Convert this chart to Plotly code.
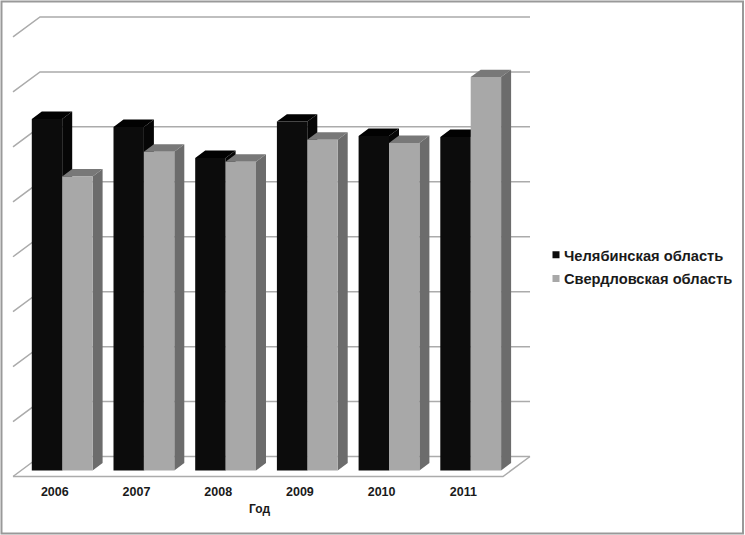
import plotly.graph_objects as go

# ---- data (values in gridline units; the source axis has no printed labels) ----
years = ["2006", "2007", "2008", "2009", "2010", "2011"]
chelyabinsk = [6.40, 6.25, 5.69, 6.35, 6.09, 6.07]
sverdlovsk = [5.35, 5.80, 5.62, 6.02, 5.96, 7.16]
grid_levels = [0, 1, 2, 3, 4, 5, 6, 7, 8]

W, H = 745, 535
PX_X, X0 = 81.7, 54.8      # px per category, px of first category on the front floor
PX_Y, Y0 = 55.0, 471.0     # px per unit, px of the bar baseline
L, R, B = 12, 532, 478.5   # plot area in px


def xpx(p):
    return (p - X0) / PX_X


def ypx(p):
    return (Y0 - p) / PX_Y


# bar geometry, in data units
BAR_W = 30.4 / PX_X
BAR_SHIFT = 7.4 / PX_X
BAR_DX, BAR_DY = 10 / PX_X, 7.5 / PX_Y
# wall / floor geometry
WALL_DX, WALL_DY = 27 / PX_X, 20 / PX_Y
BACK_Y0 = 14 / PX_Y
BACK_X0, BACK_X1 = xpx(40), xpx(530)


def polys(rects):
    xs, ys = [], []
    for r in rects:
        xs += [p[0] for p in r] + [None]
        ys += [p[1] for p in r] + [None]
    return xs, ys


fig = go.Figure()

GRID = "#ababab"


def line(xs, ys, width=1.5):
    fig.add_trace(go.Scatter(x=xs, y=ys, mode="lines", line=dict(color=GRID, width=width),
                             showlegend=False, hoverinfo="skip", cliponaxis=False))


# back-wall gridlines + slanted side-wall ticks
for k in grid_levels:
    y = BACK_Y0 + k
    line([BACK_X0 - WALL_DX, BACK_X0, BACK_X1], [y - WALL_DY, y, y])
# floor
fy = BACK_Y0 - WALL_DY
line([BACK_X0 - WALL_DX, BACK_X1 - WALL_DX, BACK_X1], [fy, fy, BACK_Y0])


def face(rects, color, name):
    xs, ys = polys(rects)
    fig.add_trace(go.Scatter(x=xs, y=ys, mode="lines", fill="toself", fillcolor=color,
                             line=dict(width=0, color=color), name=name,
                             showlegend=False, hoverinfo="skip", cliponaxis=False))


def bars(values, side, front_c, top_c, side_c, name):
    fronts, tops, sides = [], [], []
    for i, v in enumerate(values):
        x0 = i + BAR_SHIFT + (BAR_W if side else -BAR_W)
        x1 = i + BAR_SHIFT
        a, b = min(x0, x1), max(x0, x1)
        fronts.append([(a, 0), (b, 0), (b, v), (a, v), (a, 0)])
        tops.append([(a, v), (b, v), (b + BAR_DX, v + BAR_DY), (a + BAR_DX, v + BAR_DY), (a, v)])
        sides.append([(b, 0), (b + BAR_DX, BAR_DY), (b + BAR_DX, v + BAR_DY), (b, v), (b, 0)])
    face(sides, side_c, name)
    face(tops, top_c, name)
    face(fronts, front_c, name)


bars(chelyabinsk, 0, "#0c0c0c", "#020202", "#060606", "Челябинская область")
bars(sverdlovsk, 1, "#a8a8a8", "#787878", "#6c6c6c", "Свердловская область")

# legend entries
for name, c in [("Челябинская область", "#0c0c0c"), ("Свердловская область", "#a8a8a8")]:
    fig.add_trace(go.Scatter(x=[None], y=[None], mode="markers", name=name, legendgroup=name,
                             marker=dict(symbol="square", size=7, color=c)))

fig.update_layout(
    width=W, height=H, autosize=False,
    margin=dict(l=L, r=W - R, t=0, b=H - B, autoexpand=False),
    paper_bgcolor="#ffffff", plot_bgcolor="rgba(0,0,0,0)",
    font=dict(family="Liberation Sans", color="#1a1a1a"),
    showlegend=True,
    legend=dict(x=(524 - L) / (R - L), xanchor="left", y=(B - 267) / B,
                yanchor="middle", bgcolor="rgba(0,0,0,0)", traceorder="grouped", tracegroupgap=1.5,
                font=dict(size=14.7, family="Liberation Sans", weight="bold", color="#1a1a1a")),
    shapes=[dict(type="rect", xref="paper", yref="paper",
                 x0=(1.5 - L) / (R - L), x1=(743 - L) / (R - L),
                 y0=(B - 534) / B, y1=(B - 1.5) / B,
                 line=dict(color="#999999", width=2), layer="below")],
    annotations=[dict(text="<b>Год</b>", xref="paper", yref="paper",
                      x=(259.5 - L) / (R - L), y=(B - 510) / B, xanchor="center", yanchor="middle",
                      showarrow=False, font=dict(size=12, color="#1a1a1a"))],
    xaxis=dict(range=[xpx(L), xpx(R)], tickmode="array", tickvals=list(range(len(years))),
               ticktext=years, showgrid=False, zeroline=False, showline=False, ticks="",
               ticklabelstandoff=4,
               tickfont=dict(size=12.5, family="Liberation Sans", weight="bold", color="#1a1a1a")),
    yaxis=dict(range=[ypx(B), ypx(0)], showgrid=False, zeroline=False, showline=False,
               showticklabels=False, ticks=""),
)

# page without its default margin; legend swatches next to their labels
post = ("document.body.style.margin='0';"
        "document.querySelectorAll('.legend .legendpoints').forEach(function(n){n.setAttribute('transform','translate(12,0)');});")
fig.write_html("out.html", post_script=post, config={"displayModeBar": False})
